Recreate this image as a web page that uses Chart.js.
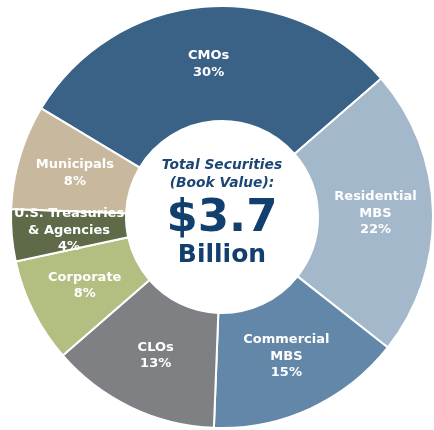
<!DOCTYPE html>
<html>
<head>
<meta charset="utf-8">
<script src="https://cdn.jsdelivr.net/npm/chart.js@4/dist/chart.umd.min.js"></script>
<style>
  html, body { margin: 0; padding: 0; background: #fff; }
  #wrap { position: relative; width: 434px; height: 430px; }
</style>
</head>
<body>
<div id="wrap"><canvas id="chart" width="434" height="430"></canvas></div>
<script>
// Portfolio mix, percent of book value
const categories = [
  ['CMOs'],
  ['Residential', 'MBS'],
  ['Commercial', 'MBS'],
  ['CLOs'],
  ['Corporate'],
  ['U.S. Treasuries', '& Agencies'],
  ['Municipals']
];
const shares = [30, 22, 15, 13, 8, 4, 8];
const sliceColors = ['#3a6287', '#a4b8cb', '#6387a8', '#7f8084', '#b3be81', '#5e6a48', '#c8b89d'];
const centerLines = ['Total Securities', '(Book Value):', '$3.7', 'Billion'];

const FONT = '"DejaVu Sans", Verdana, sans-serif';

// white labels inside each slice, stacked around the arc's center point
const sliceLabels = {
  id: 'sliceLabels',
  afterDatasetsDraw(chart) {
    const ctx = chart.ctx;
    const arcs = chart.getDatasetMeta(0).data;
    ctx.save();
    ctx.fillStyle = '#ffffff';
    ctx.font = 'bold 13px ' + FONT;
    ctx.textAlign = 'center';
    ctx.textBaseline = 'middle';
    arcs.forEach((arc, i) => {
      const p = arc.getCenterPoint();
      const lines = categories[i].concat(shares[i] + '%');
      const lh = 16.5;
      const top = p.y - (lines.length - 1) * lh / 2;
      lines.forEach((t, j) => ctx.fillText(t, p.x, top + j * lh));
    });
    ctx.restore();
  }
};

// headline in the doughnut hole
const centerText = {
  id: 'centerText',
  afterDraw(chart) {
    const ctx = chart.ctx;
    const a = chart.getDatasetMeta(0).data[0];
    const cx = a.x, cy = a.y;
    ctx.save();
    ctx.textAlign = 'center';
    ctx.textBaseline = 'middle';
    ctx.fillStyle = '#1c4673';
    ctx.font = 'italic bold 13.8px ' + FONT;
    ctx.fillText(centerLines[0], cx, cy - 52);
    ctx.fillText(centerLines[1], cx, cy - 34);
    ctx.fillStyle = '#123f6d';
    ctx.font = 'bold 45px ' + FONT;
    ctx.fillText(centerLines[2], cx, cy + 2);
    ctx.font = 'bold 25px ' + FONT;
    ctx.fillText(centerLines[3], cx, cy + 38);
    ctx.restore();
  }
};

new Chart(document.getElementById('chart'), {
  type: 'doughnut',
  data: {
    labels: categories.map(c => c.join(' ')),
    datasets: [{
      data: shares,
      backgroundColor: sliceColors,
      borderColor: '#ffffff',
      borderWidth: 2
    }]
  },
  options: {
    responsive: false,
    animation: false,
    rotation: -59,
    cutout: '45.5%',
    layout: { padding: { top: 5, bottom: 1, left: 10, right: 0 } },
    plugins: {
      legend: { display: false },
      tooltip: { enabled: false }
    }
  },
  plugins: [sliceLabels, centerText]
});
</script>
</body>
</html>
